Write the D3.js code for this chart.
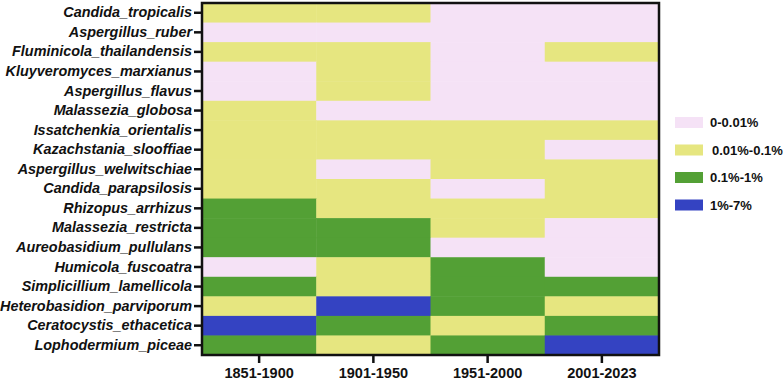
<!DOCTYPE html>
<html>
<head>
<meta charset="utf-8">
<script src="https://cdn.jsdelivr.net/npm/d3@7"></script>
<style>
  body { margin: 0; background: #fff; }
  svg { font-family: "Liberation Sans", Arial, sans-serif; }
</style>
</head>
<body>
<div class="container"></div>
<script>
const species = [
  "Candida_tropicalis", "Aspergillus_ruber", "Fluminicola_thailandensis",
  "Kluyveromyces_marxianus", "Aspergillus_flavus", "Malassezia_globosa",
  "Issatchenkia_orientalis", "Kazachstania_slooffiae", "Aspergillus_welwitschiae",
  "Candida_parapsilosis", "Rhizopus_arrhizus", "Malassezia_restricta",
  "Aureobasidium_pullulans", "Humicola_fuscoatra", "Simplicillium_lamellicola",
  "Heterobasidion_parviporum", "Ceratocystis_ethacetica", "Lophodermium_piceae"
];
const periods = ["1851-1900", "1901-1950", "1951-2000", "2001-2023"];
const levels = ["0-0.01%", "0.01%-0.1%", "0.1%-1%", "1%-7%"];
// abundance level per species (index into levels), one value per period
const levelIdx = [
  [1, 1, 0, 0],
  [0, 0, 0, 0],
  [1, 1, 0, 1],
  [0, 1, 0, 0],
  [0, 1, 0, 0],
  [1, 0, 0, 0],
  [1, 1, 1, 1],
  [1, 1, 1, 0],
  [1, 0, 1, 1],
  [1, 1, 0, 1],
  [2, 1, 1, 1],
  [2, 2, 1, 0],
  [2, 2, 0, 0],
  [0, 1, 2, 0],
  [2, 1, 2, 2],
  [1, 3, 2, 1],
  [3, 2, 1, 2],
  [2, 1, 2, 3]
];

const margin = {top: 3, right: 124, bottom: 26, left: 202};
const W = 783, H = 381;
let w = W - margin.left - margin.right,
    h = H - margin.top - margin.bottom;

const color = d3.scaleOrdinal().domain(levels)
  .range(["#f5e2f6", "#e6e680", "#53a035", "#3443c2"]);

const svg = d3.select(".container").append("svg")
  .attr("width", W).attr("height", H);
const g = svg.append("g")
  .attr("transform", "translate(" + margin.left + "," + margin.top + ")");

const x = d3.scaleBand().domain(periods).range([0, w]);
const y = d3.scaleBand().domain(species).range([0, h]);

//cells
const cells = [];
species.forEach((s, i) => periods.forEach((p, j) => {
  cells.push({s: s, p: p, v: levels[levelIdx[i][j]]});
}));
g.selectAll(".cell").data(cells).enter().append("rect")
  .attr("class", "cell")
  .attr("x", d => x(d.p))
  .attr("y", d => y(d.s))
  .attr("width", x.bandwidth() + 0.5)
  .attr("height", y.bandwidth() + 0.5)
  .attr("fill", d => color(d.v));

//frame
g.append("rect").attr("x", 0).attr("y", 0).attr("width", w).attr("height", h)
  .attr("fill", "none").attr("stroke", "#111").attr("stroke-width", 2.5);

//axes
const yAxis = g.append("g").attr("transform", "translate(-1,0)")
  .call(d3.axisLeft(y).tickSize(7).tickPadding(2));
const xAxis = g.append("g").attr("transform", "translate(0," + (h + 1) + ")")
  .call(d3.axisBottom(x).tickSize(7).tickPadding(5));
[xAxis, yAxis].forEach(a => {
  a.select(".domain").remove();
  a.selectAll("line").attr("stroke", "#111").attr("stroke-width", 2.5);
  a.selectAll("text").attr("fill", "#111").style("font-weight", "bold");
});
yAxis.selectAll("text").style("font-style", "italic").style("font-size", "14.4px");
xAxis.selectAll("text").style("font-size", "14.5px");

//legend
const legend = svg.selectAll(".legend").data(levels).enter().append("g")
  .attr("class", "legend")
  .attr("transform", (d, i) => "translate(675," + (117 + i * 27.5) + ")");
legend.append("rect").attr("width", 28).attr("height", 11).attr("fill", d => color(d));
legend.append("text").attr("x", (d, i) => i === 1 ? 37 : 35).attr("y", 5.5).attr("dy", ".35em")
  .style("font-size", "13px").style("font-weight", "bold").attr("fill", "#111")
  .text(d => d);
</script>
</body>
</html>
